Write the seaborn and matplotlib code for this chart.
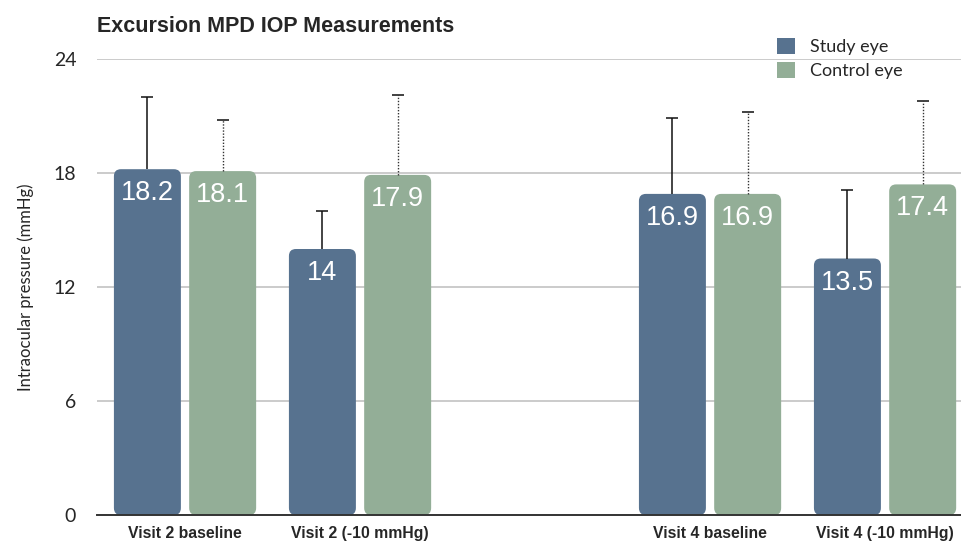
import matplotlib
matplotlib.use('Agg')
import matplotlib.pyplot as plt
from matplotlib.patches import FancyBboxPatch
import numpy as np
import pandas as pd
import seaborn as sns

# ==================== DATA ====================
visits = ['Visit 2 baseline', 'Visit 2 (-10 mmHg)', '', 'Visit 4 baseline', 'Visit 4 (-10 mmHg)']
groups = ['Visit 2 baseline', 'Visit 2 (-10 mmHg)', 'Visit 4 baseline', 'Visit 4 (-10 mmHg)']
study_eye = [18.2, 14, 16.9, 13.5]
control_eye = [18.1, 17.9, 16.9, 17.4]
study_upper = [22.0, 16.0, 20.9, 17.1]     # top of error bar
control_upper = [20.8, 22.1, 21.2, 21.8]
series = ['Study eye', 'Control eye']
colors = ['#57728F', '#93AE97']

df = pd.DataFrame({
    'visit': groups * 2,
    'eye': [series[0]] * 4 + [series[1]] * 4,
    'iop': study_eye + control_eye,
})

# ==================== PLOT ====================
sns.set_style('white')
plt.rcParams['font.family'] = ['Lato', 'DejaVu Sans']

fig = plt.figure(figsize=(9.61, 5.42), dpi=100)
ax = fig.add_axes([97 / 961, 27 / 542, 864 / 961, 456 / 542])

sns.barplot(data=df, x='visit', y='iop', hue='eye', order=visits,
            hue_order=series, palette=colors, width=0.86, gap=0.11,
            saturation=1, errorbar=None, ax=ax, legend=True)

ax.set_xlim(-0.503, 4.434)
ax.set_ylim(0, 24)
ax.set_yticks([0, 6, 12, 18, 24])
ax.yaxis.grid(True, color='#BDBDBD', lw=1.1)
ax.set_axisbelow(True)
for s in ['top', 'right', 'left']:
    ax.spines[s].set_visible(False)
ax.spines['bottom'].set_color('#333333')
ax.spines['bottom'].set_linewidth(1.4)
ax.tick_params(axis='y', length=0, pad=15, labelsize=14)
ax.tick_params(axis='x', length=0, pad=8)
for lab in ax.get_xticklabels():
    lab.set_fontfamily(['Liberation Sans', 'DejaVu Sans'])
    lab.set_fontweight('bold')
    lab.set_fontsize(11.3)
ax.set_xlabel('')
ax.set_ylabel('Intraocular pressure (mmHg)', fontsize=12, labelpad=14)

# rounded bars in place of the square ones
fig.canvas.draw()
p0 = ax.transData.transform((0, 0))
p1 = ax.transData.transform((1, 1))
aspect = (p1[0] - p0[0]) / (p1[1] - p0[1])
for bar in list(ax.patches):
    x, y = bar.get_x(), bar.get_y()
    w, h = bar.get_width(), bar.get_height()
    if h == 0 or np.isnan(h):
        continue
    rb = FancyBboxPatch((x, y), w, h, boxstyle='round,pad=0,rounding_size=0.04',
                        mutation_aspect=aspect, fc=bar.get_facecolor(),
                        ec='none', zorder=2)
    ax.add_patch(rb)
    bar.set_visible(False)

# bar centres per series (seaborn draws hue levels in order)
cont = ax.containers
xs_study = [b.get_x() + b.get_width() / 2 for b in cont[0] if b.get_height() > 0]
xs_ctrl = [b.get_x() + b.get_width() / 2 for b in cont[1] if b.get_height() > 0]

eb1 = ax.errorbar(xs_study, study_eye, yerr=[np.zeros(4), np.array(study_upper) - study_eye],
                  fmt='none', ecolor='#111111', elinewidth=1.1, capsize=4, capthick=1.1, zorder=3)
eb2 = ax.errorbar(xs_ctrl, control_eye, yerr=[np.zeros(4), np.array(control_upper) - control_eye],
                  fmt='none', ecolor='#333333', elinewidth=1.0, capsize=4, capthick=1.3, zorder=3)
eb2[2][0].set_linestyle((0, (1, 1.2)))
# only the upper caps
eb1[1][0].set_visible(False)
eb2[1][0].set_visible(False)

for xs, vals in [(xs_study, study_eye), (xs_ctrl, control_eye)]:
    for x, v in zip(xs, vals):
        ax.annotate(f'{v:g}', (x, v), xytext=(0, -24), textcoords='offset pixels',
                    ha='center', va='center', color='white', fontsize=19.5,
                    family=['Liberation Sans', 'DejaVu Sans'], zorder=4)

leg = ax.legend(loc='upper left', bbox_to_anchor=(770 / 961, 1 - 31 / 542),
                bbox_transform=fig.transFigure, frameon=False, fontsize=13,
                handlelength=1.0, handleheight=1.0, handletextpad=0.8,
                labelspacing=0.35, borderaxespad=0)
for h in leg.legend_handles:
    h.set_edgecolor('none')

fig.text(97 / 961, 1 - 27 / 542, 'Excursion MPD IOP Measurements', fontsize=15.5,
         fontweight='bold', family=['Liberation Sans', 'DejaVu Sans'], va='center')

plt.savefig('out.png', dpi=100)
